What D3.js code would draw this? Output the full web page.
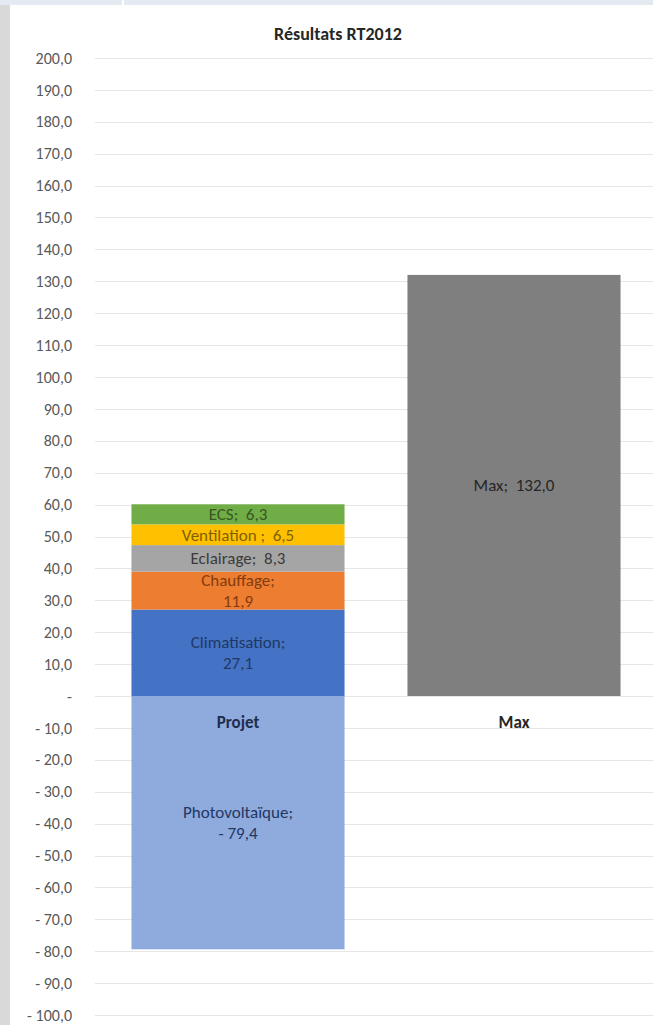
<!DOCTYPE html>
<html>
<head>
<meta charset="utf-8">
<script src="https://cdn.jsdelivr.net/npm/d3@7"></script>
<style>
  body { margin: 0; background: #fff; }
  svg text { font-family: Carlito, Lato, "Open Sans", sans-serif; }
</style>
</head>
<body>
<div id="chart"></div>
<script>
// categories and stacked series (kWhep/m2)
const categories = ['Projet', 'Max'];
const seriesNames = ['Climatisation', 'Chauffage', 'Eclairage', 'Ventilation ', 'ECS', 'Photovoltaïque', 'Max'];
const projetValues = [27.1, 11.9, 8.3, 6.5, 6.3, -79.4, 0];
const maxValues = [0, 0, 0, 0, 0, 0, 132.0];
const fills = ['#4472c4', '#ed7d31', '#a5a5a5', '#ffc000', '#70ad47', '#8faadc', '#7f7f7f'];
const labelColors = ['#1f3864', '#843c0c', '#3b3b3b', '#7f6000', '#375623', '#1f3864', '#262626'];
const yTicks = d3.range(-100, 201, 10);

const width = 653;
const height = 1025;
const margin = { top: 58, right: 0, bottom: 10, left: 100 };

const fmt = v => {
    if (v === 0) return '-';
    const s = d3.format('.1f')(Math.abs(v)).replace('.', ',');
    return v < 0 ? '- ' + s : s;
};

const svg = d3.select('#chart')
    .append('svg')
    .attr('width', width)
    .attr('height', height);

// screenshot frame bits
svg.append('rect').attr('x', 0).attr('y', 0).attr('width', width).attr('height', 5).attr('fill', '#e4eaf1');
svg.append('rect').attr('x', 122).attr('y', 0).attr('width', 2).attr('height', 5).attr('fill', '#fff');
svg.append('rect').attr('x', 0).attr('y', 5).attr('width', 10).attr('height', height).attr('fill', '#d9d9d9');

const yScale = d3.scaleLinear()
    .domain([-100, 200])
    .range([1015, margin.top]);

const xScale = d3.scaleBand()
    .domain(categories)
    .range([margin.left, 652])
    .paddingInner(0.228)
    .paddingOuter(0.114);

// grid lines
svg.append('g')
    .selectAll('line')
    .data(yTicks)
    .enter()
    .append('line')
    .attr('x1', 95)
    .attr('x2', width)
    .attr('y1', d => Math.round(yScale(d)) + 0.5)
    .attr('y2', d => Math.round(yScale(d)) + 0.5)
    .attr('stroke', '#e6e6e6');

// y axis labels
const yAxis = d3.axisLeft(yScale)
    .tickValues(yTicks)
    .tickFormat(fmt)
    .tickSize(0)
    .tickPadding(0);

svg.append('g')
    .attr('transform', 'translate(72,0)')
    .call(yAxis)
    .call(g => g.select('.domain').remove())
    .selectAll('text')
    .attr('font-size', 16)
    .attr('fill', '#595959');

// stacks
const rows = categories.map((c, i) => {
    const vals = i === 0 ? projetValues : maxValues;
    let pos = 0, neg = 0;
    return vals.map((v, k) => {
        let y0, y1;
        if (v >= 0) { y0 = pos; y1 = pos + v; pos = y1; }
        else { y0 = neg; y1 = neg + v; neg = y1; }
        return { cat: c, name: seriesNames[k], value: v, y0, y1, k };
    }).filter(d => d.value !== 0);
});
const segs = rows.flat();

svg.append('g')
    .selectAll('rect')
    .data(segs)
    .enter()
    .append('rect')
    .attr('x', d => xScale(d.cat))
    .attr('width', xScale.bandwidth())
    .attr('y', d => yScale(Math.max(d.y0, d.y1)))
    .attr('height', d => Math.abs(yScale(d.y0) - yScale(d.y1)))
    .attr('fill', d => fills[d.k]);

// data labels
const twoLine = ['Chauffage', 'Climatisation', 'Photovoltaïque'];
const labels = svg.append('g')
    .selectAll('text')
    .data(segs)
    .enter()
    .append('text')
    .attr('text-anchor', 'middle')
    .attr('font-size', 17)
    .attr('fill', d => labelColors[d.k])
    .attr('transform', d => 'translate(' + (xScale(d.cat) + xScale.bandwidth() / 2) + ',' + yScale((d.y0 + d.y1) / 2) + ')');

labels.each(function (d) {
    const t = d3.select(this);
    const name = d.name.trim() === 'Ventilation' ? 'Ventilation ;' : d.name + ';';
    if (twoLine.includes(d.name)) {
        t.append('tspan').attr('x', 0).attr('dy', -5).text(name);
        t.append('tspan').attr('x', 0).attr('dy', 21).text(fmt(d.value));
    } else {
        t.append('tspan').attr('x', 0).attr('dy', 6).text(name + '\u00a0\u00a0' + fmt(d.value));
    }
});

// category labels
svg.append('g')
    .selectAll('text')
    .data(categories)
    .enter()
    .append('text')
    .attr('x', d => xScale(d) + xScale.bandwidth() / 2)
    .attr('y', yScale(0) + 32)
    .attr('text-anchor', 'middle')
    .attr('font-size', 17)
    .attr('font-weight', 'bold')
    .attr('fill', d => d === 'Projet' ? '#1f2d4d' : '#262626')
    .text(d => d);

// title
svg.append('text')
    .attr('x', 338)
    .attr('y', 40)
    .attr('text-anchor', 'middle')
    .attr('font-size', 18)
    .attr('font-weight', 'bold')
    .attr('fill', '#262626')
    .text('Résultats RT2012');
</script>
</body>
</html>
